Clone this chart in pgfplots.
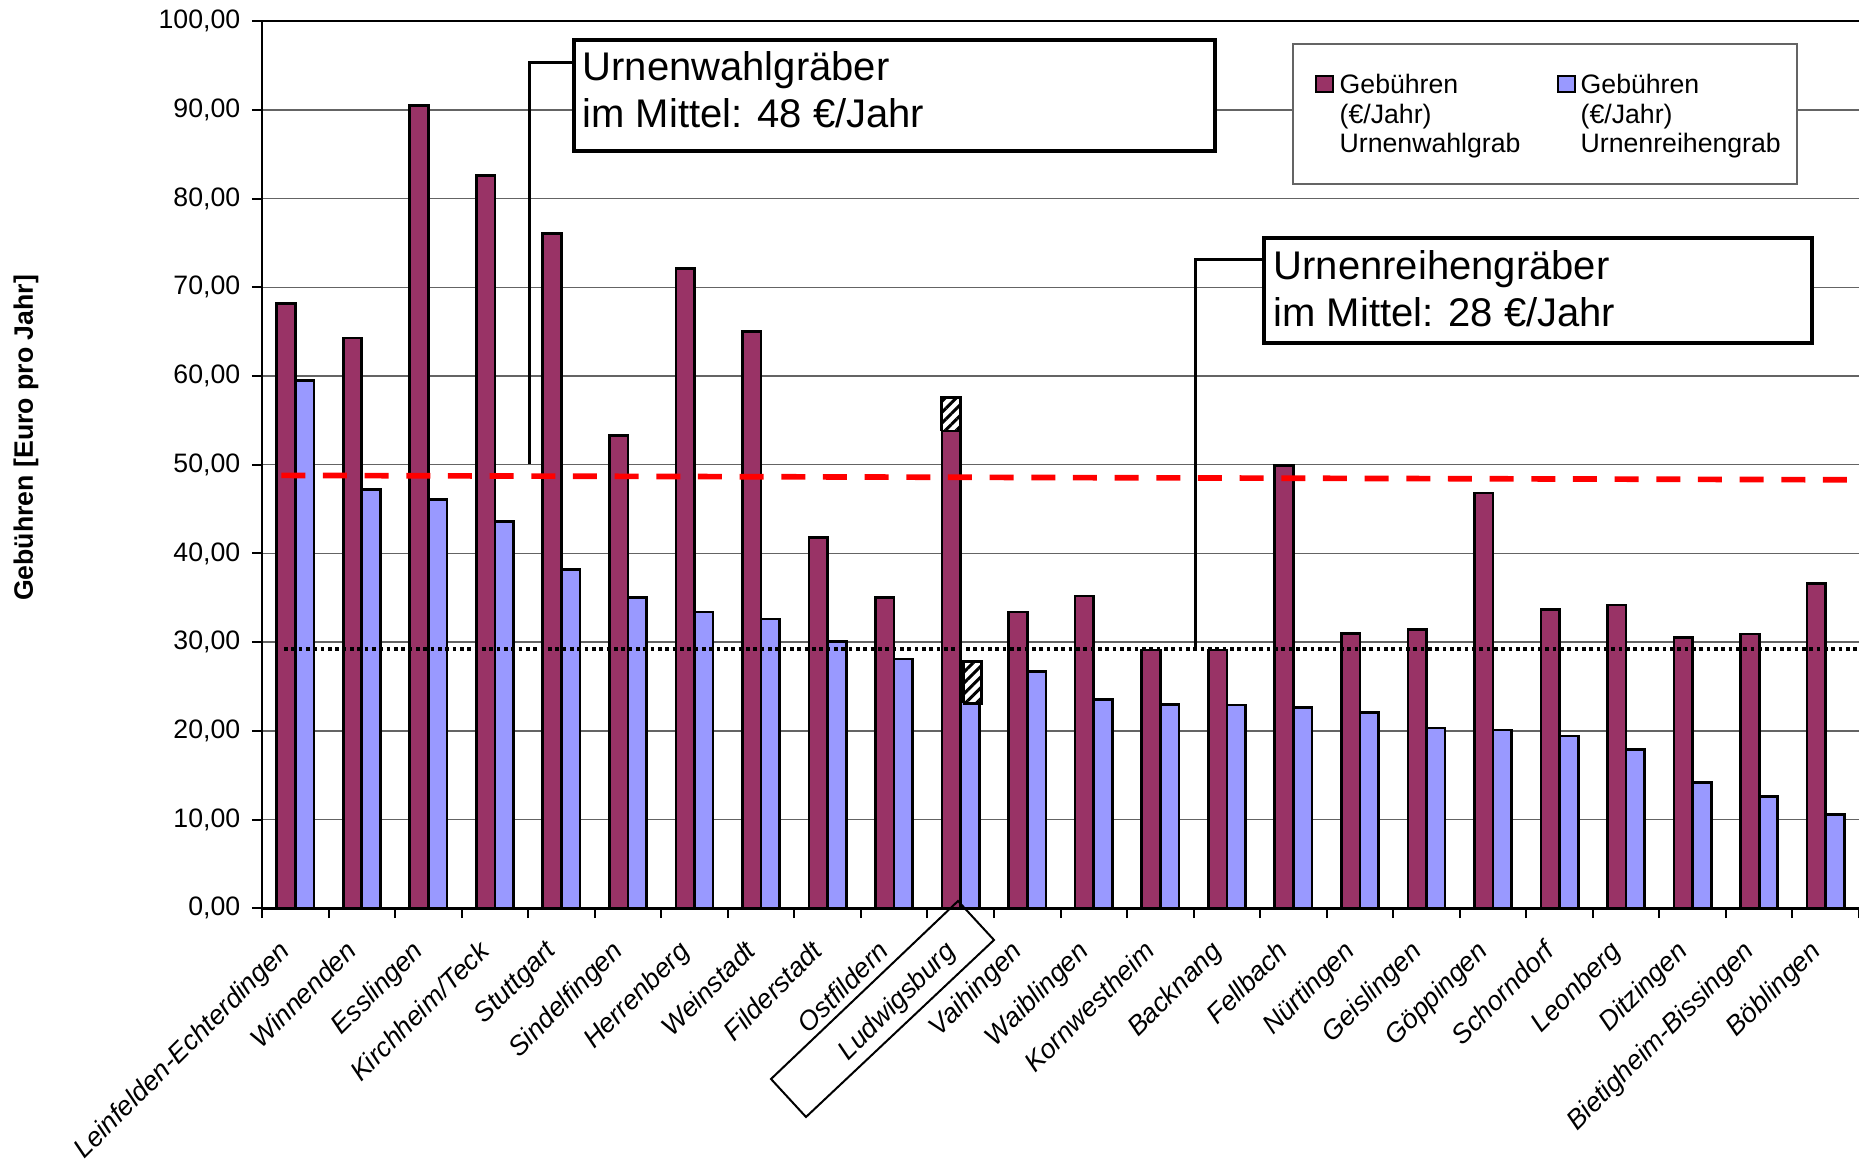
\documentclass[border=0pt]{standalone}
\usepackage{fontspec}
\setmainfont{Liberation Sans}
\usepackage{pgfplots}
\pgfplotsset{compat=1.18}
\usetikzlibrary{patterns.meta}
\definecolor{wahl}{RGB}{153,51,102}
\definecolor{reihe}{RGB}{153,153,255}
\definecolor{gridc}{RGB}{100,100,100}

\begin{document}
\begin{tikzpicture}
\begin{axis}[
  at={(78.6pt,-272.46pt)}, anchor=south west,
  scale only axis, width=479.1pt, height=266.07pt,
  xmin=-0.5, xmax=23.5, ymin=0, ymax=100,
  axis line style={draw=none},
  tick pos=left, tick align=outside,
  major tick length=3pt, minor tick length=3pt,
  xtick={0,...,23},
  minor xtick={-0.5,0.5,...,23.5},
  major x tick style={draw=none},
  minor x tick style={black, line width=0.6pt},
  y tick style={black, line width=0.6pt},
  xticklabels={Leinfelden-Echterdingen, Winnenden, Esslingen, Kirchheim/Teck, Stuttgart, Sindelfingen, Herrenberg, Weinstadt, Filderstadt, Ostfildern, Ludwigsburg, Vaihingen, Waiblingen, Kornwestheim, Backnang, Fellbach, Nürtingen, Geislingen, Göppingen, Schorndorf, Leonberg, Ditzingen, Bietigheim-Bissingen, Böblingen},
  xticklabel style={rotate=45, anchor=north east, inner sep=1pt, xshift=-7pt, yshift=0.5pt, font=\itshape\fontsize{8.1}{9}\selectfont},
  ytick={0,10,...,100},
  yticklabel style={/pgf/number format/.cd, fixed, fixed zerofill, precision=2, use comma, assume math mode=true, /tikz/.cd, font=\fontsize{8}{9}\selectfont},
  ymajorgrids, major grid style={gridc, line width=0.45pt},
  clip=false,
]
% Urnenwahlgrab
\addplot[ybar, bar width=0.28, bar shift=-0.14, fill=wahl, draw=black, line width=0.8pt]
  coordinates {(0,68.2) (1,64.3) (2,90.5) (3,82.6) (4,76.1) (5,53.3) (6,72.1) (7,65.0) (8,41.8) (9,35.0) (10,53.8) (11,33.4) (12,35.2) (13,29.1) (14,29.1) (15,49.9) (16,31.0) (17,31.4) (18,46.8) (19,33.7) (20,34.2) (21,30.5) (22,30.9) (23,36.6)};
% Urnenreihengrab
\addplot[ybar, bar width=0.28, bar shift=0.14, fill=reihe, draw=black, line width=0.8pt]
  coordinates {(0,59.5) (1,47.2) (2,46.1) (3,43.6) (4,38.2) (5,35.0) (6,33.4) (7,32.6) (8,30.1) (9,28.1) (10,27.0) (11,26.7) (12,23.5) (13,23.0) (14,22.9) (15,22.6) (16,22.1) (17,20.3) (18,20.1) (19,19.4) (20,17.9) (21,14.2) (22,12.6) (23,10.6)};
% schraffierte Teile Ludwigsburg
\addplot[draw=black, line width=0.8pt, fill=white, postaction={pattern={Lines[angle=45, distance=2.3pt, line width=0.9pt]}}]
  coordinates {(9.71,53.8) (10.0,53.8) (10.0,57.6) (9.71,57.6) (9.71,53.8)};
\addplot[draw=black, line width=0.8pt, fill=white, postaction={pattern={Lines[angle=45, distance=2.3pt, line width=0.9pt]}}]
  coordinates {(10.04,23.1) (10.31,23.1) (10.31,27.8) (10.04,27.8) (10.04,23.1)};
% Mittelwerte
\addplot[red, line width=1.7pt, dash pattern=on 7.2pt off 5.3pt]
  coordinates {(-0.21,48.8) (23.5,48.3)};
\addplot[black, line width=1.1pt, dash pattern=on 1.1pt off 1.1pt]
  coordinates {(-0.17,29.2) (23.5,29.2)};
% Achsenlinien
\draw[black, line width=0.7pt] (rel axis cs:0,1) -- (rel axis cs:0,0);
\draw[black, line width=1pt] (rel axis cs:0,0) -- (rel axis cs:1,0);
\draw[black, line width=0.7pt] (rel axis cs:0,1) -- (rel axis cs:1,1);
\end{axis}

\begin{scope}[x=0.3pt, y=-0.3pt]
% y label
\node[rotate=90, font=\bfseries\fontsize{8}{9}\selectfont] at (26,438) {Gebühren [Euro pro Jahr]};
% legend
\draw[gridc, line width=0.5pt, fill=white] (1293,44) rectangle (1797,184);
\draw[black, line width=0.6pt, fill=wahl] (1316,76) rectangle (1333,92);
\draw[black, line width=0.6pt, fill=reihe] (1558,76) rectangle (1575,92);
\begin{scope}[every node/.style={anchor=base west, inner sep=0pt, font=\fontsize{8}{9}\selectfont}]
\node at (1339,94) {Gebühren};
\node at (1339,123.5) {(€/Jahr)};
\node at (1339,153) {Urnenwahlgrab};
\node at (1580,94) {Gebühren};
\node at (1580,123.5) {(€/Jahr)};
\node at (1580,153) {Urnenreihengrab};
\end{scope}
% callouts
\draw[black, line width=0.9pt] (574,63) -- (529,63) -- (529,464);
\draw[black, line width=1pt, fill=white] (574,40) rectangle (1215,151);
\node[anchor=base west, inner sep=0pt, font=\fontsize{12}{14}\selectfont] at (582,80.6) {Urnenwahlgräber};
\node[anchor=base west, inner sep=0pt, font=\fontsize{12}{14}\selectfont] at (582,128) {im Mittel: 48 €/Jahr};
\draw[black, line width=0.9pt] (1264,260) -- (1195,260) -- (1195,650);
\draw[black, line width=1pt, fill=white] (1264,238) rectangle (1812,343);
\node[anchor=base west, inner sep=0pt, font=\fontsize{12}{14}\selectfont] at (1273,280) {Urnenreihengräber};
\node[anchor=base west, inner sep=0pt, font=\fontsize{12}{14}\selectfont] at (1273,327) {im Mittel: 28 €/Jahr};
% Ludwigsburg frame
\draw[black, line width=0.6pt] (958,901) -- (994,940) -- (806,1117) -- (771,1079) -- cycle;
\pgfresetboundingbox
\path[use as bounding box] (0,0) rectangle (1859,1159);
\end{scope}
\end{tikzpicture}
\end{document}
